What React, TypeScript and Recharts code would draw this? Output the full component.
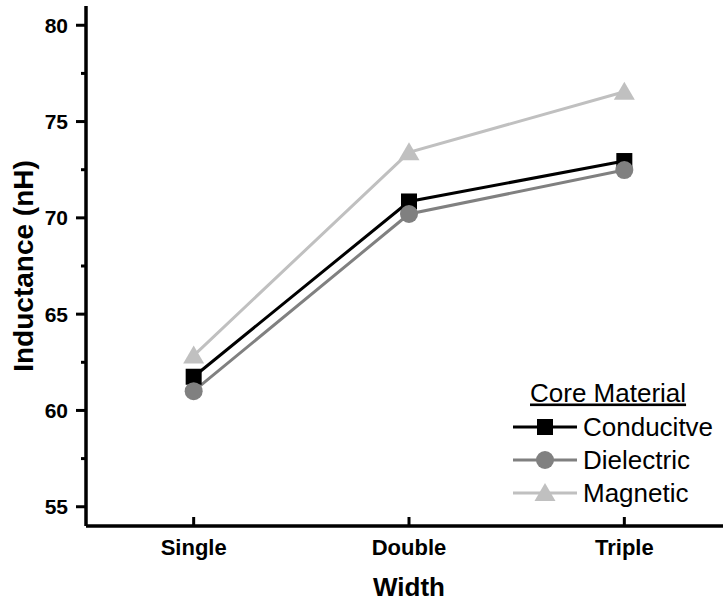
import React from 'react';
import { LineChart, Line, XAxis, YAxis, Legend } from 'recharts';

const categories = ['Single', 'Double', 'Triple'];
const conductive = [61.75, 70.85, 72.95];
const dielectric = [61.0, 70.2, 72.48];
const magnetic = [62.85, 73.4, 76.55];
const yTicks = [55, 57.5, 60, 62.5, 65, 67.5, 70, 72.5, 75, 77.5, 80];

const FONT = 'Arial, "Liberation Sans", sans-serif';
const AXIS_W = 3.5;

const data = categories.map((name, i) => ({
  x: i + 1,
  name,
  conductive: conductive[i],
  dielectric: dielectric[i],
  magnetic: magnetic[i],
}));

const series = [
  { key: 'conductive', name: 'Conducitve', color: '#000000', shape: 'square' },
  { key: 'dielectric', name: 'Dielectric', color: '#808080', shape: 'circle' },
  { key: 'magnetic', name: 'Magnetic', color: '#c0c0c0', shape: 'triangle' },
];

const Marker = ({ cx, cy, shape, color }: any) => {
  if (cx == null || cy == null) return null;
  if (shape === 'square') {
    return <rect x={cx - 8} y={cy - 8} width={16} height={16} fill={color} />;
  }
  if (shape === 'circle') {
    return <circle cx={cx} cy={cy} r={9} fill={color} />;
  }
  return (
    <polygon
      points={`${cx},${cy - 10} ${cx + 10.5},${cy + 8} ${cx - 10.5},${cy + 8}`}
      fill={color}
    />
  );
};

const YTick = (props: any) => {
  const { x, y, payload } = props;
  const major = payload.value % 5 === 0;
  return (
    <g>
      <line x1={x} x2={x - (major ? 10 : 5)} y1={y} y2={y} stroke="#000" strokeWidth={3} />
      {major && (
        <text x={x - 18} y={y} dy={7.5} textAnchor="end" fontSize={21} fontWeight="bold" fontFamily={FONT} fill="#000">
          {payload.value}
        </text>
      )}
    </g>
  );
};

const XTick = (props: any) => {
  const { x, y, payload } = props;
  return (
    <g>
      <line x1={x} x2={x} y1={y} y2={y - 9} stroke="#000" strokeWidth={3} />
      <text x={x} y={y + 29} textAnchor="middle" fontSize={22} fontWeight="bold" fontFamily={FONT} fill="#000">
        {categories[payload.value - 1]}
      </text>
    </g>
  );
};

const XTitle = (props: any) => {
  const vb = props.viewBox || { x: 86, y: 526, width: 646, height: 77 };
  return (
    <text x={vb.x + vb.width / 2} y={vb.y + 70} textAnchor="middle" fontSize={26} fontWeight="bold" fontFamily={FONT} fill="#000">
      Width
    </text>
  );
};

const YTitle = (props: any) => {
  const vb = props.viewBox || { x: 0, y: 6, width: 86, height: 520 };
  const cx = vb.x + 33;
  const cy = vb.y + vb.height / 2;
  return (
    <text x={cx} y={cy} transform={`rotate(-90, ${cx}, ${cy})`} textAnchor="middle" fontSize={28} fontWeight="bold" fontFamily={FONT} fill="#000">
      Inductance (nH)
    </text>
  );
};

const LegendBox = () => {
  const rows = [52, 85, 118];
  return (
    <svg width={220} height={140} style={{ overflow: 'visible' }}>
      <text x={25} y={26.5} fontSize={26} fontFamily={FONT} fill="#000" textDecoration="underline">
        Core Material
      </text>
      {series.map((s, i) => (
        <g key={s.key}>
          <line x1={8} x2={72} y1={rows[i]} y2={rows[i]} stroke={s.color} strokeWidth={3} />
          <Marker cx={40} cy={rows[i]} shape={s.shape} color={s.color} />
          <text x={78} y={rows[i] + 8.5} fontSize={26} fontFamily={FONT} fill="#000">
            {s.name}
          </text>
        </g>
      ))}
    </svg>
  );
};

export default function App() {
  return (
    <div style={{ position: 'absolute', left: 0, top: 0, width: 723, height: 603, overflow: 'hidden', background: '#fff' }}>
      <LineChart width={740} height={603} data={data} margin={{ top: 6, right: 8, left: 0, bottom: 0 }}>
        <XAxis
          xAxisId="top"
          orientation="top"
          dataKey="x"
          type="number"
          domain={[0.5, 3.5]}
          height={0}
          tick={false}
          tickLine={false}
          axisLine={{ stroke: '#000', strokeWidth: AXIS_W }}
        />
        <XAxis
          dataKey="x"
          type="number"
          domain={[0.5, 3.5]}
          ticks={[1, 2, 3]}
          height={77}
          tickSize={0}
          tickMargin={0}
          tickLine={false}
          tick={<XTick />}
          axisLine={{ stroke: '#000', strokeWidth: AXIS_W }}
          label={<XTitle />}
        />
        <YAxis
          type="number"
          domain={[54, 81]}
          ticks={yTicks}
          width={86}
          tickSize={0}
          tickMargin={0}
          tickLine={false}
          tick={<YTick />}
          interval={0}
          axisLine={{ stroke: '#000', strokeWidth: AXIS_W }}
          label={<YTitle />}
        />
        {series.map((s) => (
          <Line
            key={s.key}
            dataKey={s.key}
            name={s.name}
            stroke={s.color}
            strokeWidth={3}
            dot={(p: any) => <Marker key={`${s.key}-${p.index}`} cx={p.cx} cy={p.cy} shape={s.shape} color={s.color} />}
            activeDot={false}
            isAnimationActive={false}
          />
        ))}
        <Legend
          layout="vertical"
          align="center"
          verticalAlign="middle"
          content={<LegendBox />}
          wrapperStyle={{ position: 'absolute', left: 505, top: 375, width: 220, height: 140 }}
        />
      </LineChart>
    </div>
  );
}
